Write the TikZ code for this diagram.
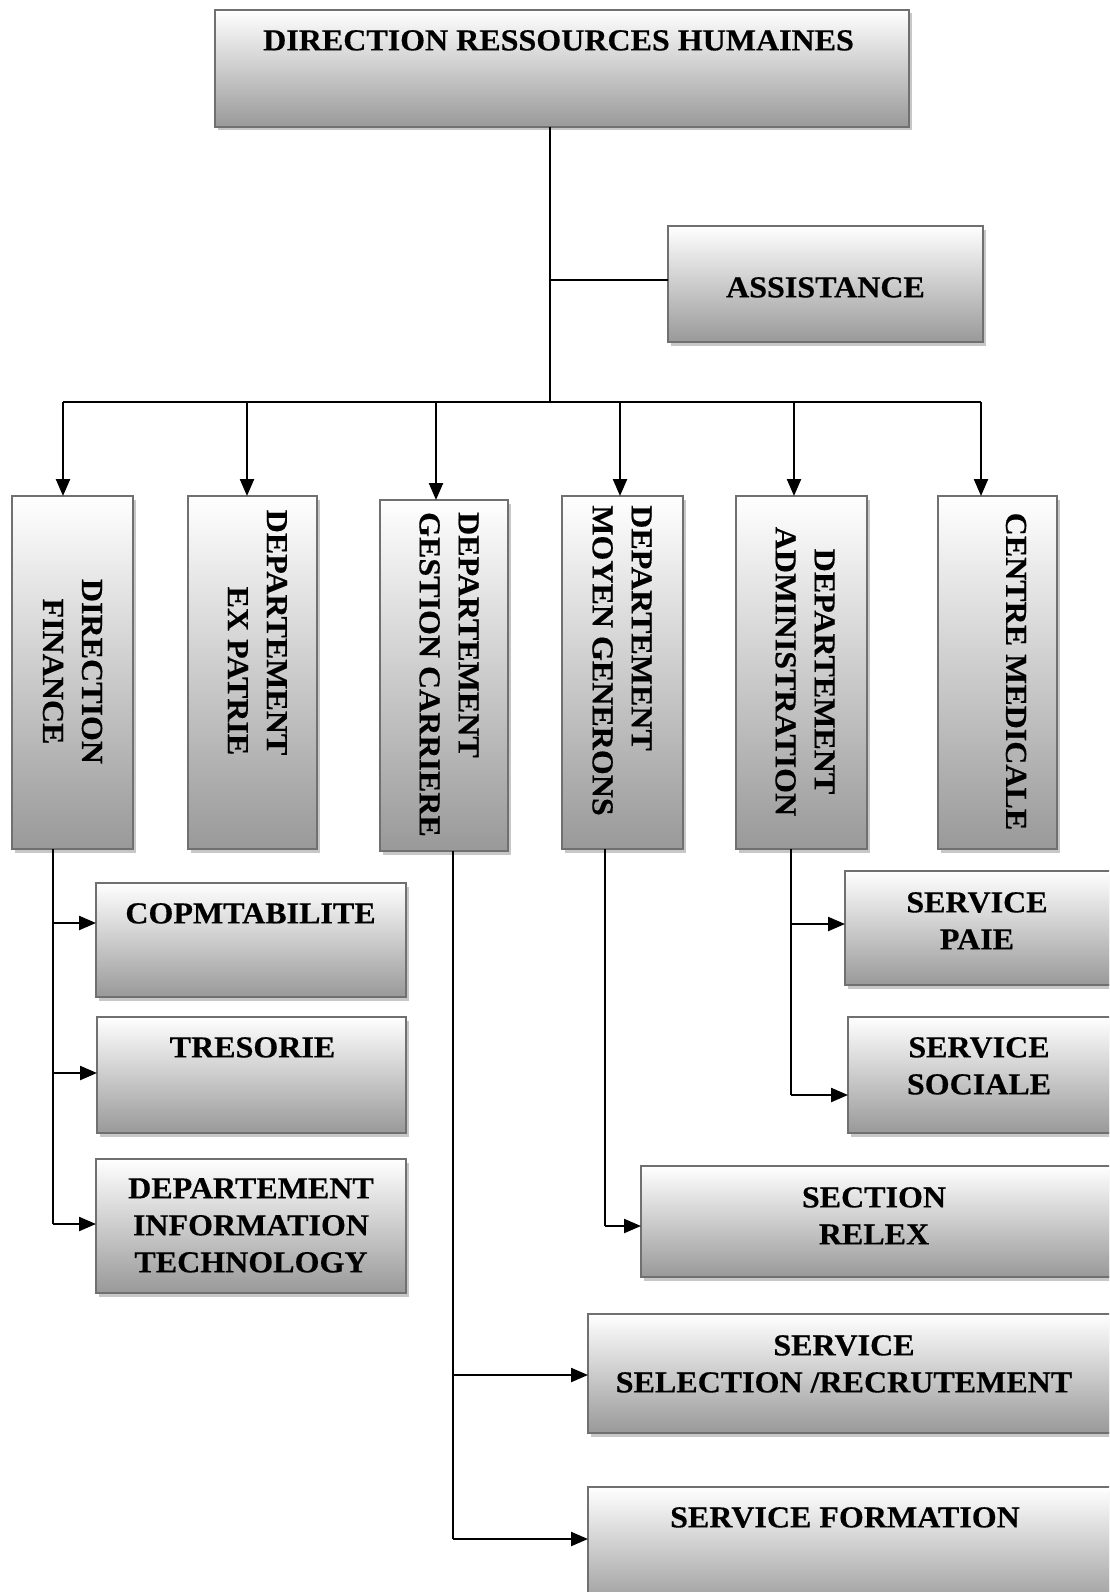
\documentclass[tikz,border=0pt]{standalone}
\usepackage{fontspec}
\setmainfont{Liberation Serif}[BoldFeatures={FakeStretch=1.05,FakeBold=0.4}]
\usetikzlibrary{arrows.meta,shadows}

\begin{document}
\begin{tikzpicture}[x=1pt,y=-1pt,
  box/.style={draw=black!56, line width=2pt, top color=white, bottom color=black!40,
    drop shadow={shadow xshift=3pt, shadow yshift=-3.5pt, fill=black!22, opacity=1},
    inner sep=0pt, outer sep=0pt},
  lbl/.style={font=\bfseries\fontsize{30.5}{37}\selectfont, align=center, inner sep=0pt, anchor=north},
  vlbl/.style={font=\bfseries\fontsize{30.5}{39}\selectfont, inner sep=0pt, rotate=-90, anchor=center},
  link/.style={line width=1.7pt},
  arr/.style={line width=2.3pt, -{Triangle[length=17pt,width=14pt]}}
]
\useasboundingbox (0,0) rectangle (1109,1592);
\clip (0,0) rectangle (1109,1592);

% ---- boxes ----
\node[box, minimum width=694, minimum height=117] (top)    at (562,68.5)   {};
\node[box, minimum width=315, minimum height=116] (assist) at (825.5,284)  {};

\node[box, minimum width=121, minimum height=353] (df)  at (72.5,672.5)  {};
\node[box, minimum width=129, minimum height=353] (ex)  at (252.5,672.5) {};
\node[box, minimum width=128, minimum height=351] (gc)  at (444,675.5)   {};
\node[box, minimum width=121, minimum height=353] (mg)  at (622.5,672.5) {};
\node[box, minimum width=131, minimum height=353] (adm) at (801.5,672.5) {};
\node[box, minimum width=119, minimum height=353] (cm)  at (997.5,672.5) {};

\node[box, minimum width=310, minimum height=114] (comp) at (251,940)    {};
\node[box, minimum width=309, minimum height=116] (tres) at (251.5,1075) {};
\node[box, minimum width=310, minimum height=134] (dit)  at (251,1226)   {};

\node[box, minimum width=280, minimum height=114] (paie)  at (985,928)     {};
\node[box, minimum width=277, minimum height=116] (soc)   at (986.5,1075)  {};
\node[box, minimum width=484, minimum height=111] (relex) at (883,1221.5)  {};
\node[box, minimum width=537, minimum height=119] (ssr)   at (856.5,1373.5){};
\node[box, minimum width=537, minimum height=123] (sf)    at (856.5,1548.5){};

% ---- labels ----
\node[lbl] (topT)    at (558.6,30)  {DIRECTION RESSOURCES HUMAINES};
\node[lbl] (assistT) at (825.5,277) {ASSISTANCE};
\node[lbl] (compT)   at (250.5,903) {COPMTABILITE};
\node[lbl] (tresT)   at (252.5,1037){TRESORIE};
\node[lbl] (ditT)    at (251,1178)  {DEPARTEMENT\\INFORMATION\\TECHNOLOGY};
\node[lbl] (paieT)   at (977,892)   {SERVICE\\PAIE};
\node[lbl] (socT)    at (979,1037)  {SERVICE\\SOCIALE};
\node[lbl] (relexT)  at (874,1187)  {SECTION\\RELEX};
\node[lbl] (ssrT)    at (844,1335)  {SERVICE\\SELECTION /RECRUTEMENT};
\node[lbl] (sfT)     at (845,1507)  {SERVICE FORMATION};

\node[vlbl, align=center] (dfT)  at (72.5,671.5) {DIRECTION\\FINANCE};
\node[vlbl, align=right]  (exT)  at (257.5,632.5){DEPARTEMENT\\EX PATRIE};
\node[vlbl, align=left]   (gcT)  at (449,674.5)  {DEPARTEMENT\\GESTION CARRIERE};
\node[vlbl, align=left]   (mgT)  at (622,660.5)  {DEPARTEMENT\\MOYEN GENERONS};
\node[vlbl, align=center] (admT) at (805,671.5)  {DEPARTEMENT\\ADMINISTRATION};
\node[vlbl, align=center] (cmT)  at (1016,671.5) {CENTRE MEDICALE};

% ---- junction points ----
\coordinate (tr) at (550,402);
\coordinate (as) at (550,280);
\coordinate (b1) at (63,402);
\coordinate (b2) at (247,402);
\coordinate (b3) at (436,402);
\coordinate (b4) at (620,402);
\coordinate (b5) at (794,402);
\coordinate (b6) at (981,402);

\coordinate (f1) at (53,923);
\coordinate (f2) at (53,1073);
\coordinate (f3) at (53,1224);
\coordinate (g1) at (453,1375);
\coordinate (g2) at (453,1539);
\coordinate (m1) at (605,1226);
\coordinate (a1) at (791,924);
\coordinate (a2) at (791,1095);

% ---- connectors from the head office ----
\draw[link] (top.south -| tr) -- (tr);
\draw[link] (as) -- (assist.west |- as);
\draw[link] (b1) -- (b6);
\draw[arr] (b1) -- (b1 |- df.north);
\draw[arr] (b2) -- (b2 |- ex.north);
\draw[arr] (b3) -- (b3 |- gc.north);
\draw[arr] (b4) -- (b4 |- mg.north);
\draw[arr] (b5) -- (b5 |- adm.north);
\draw[arr] (b6) -- (b6 |- cm.north);

% ---- finance ----
\draw[link] (df.south -| f1) -- (f3);
\draw[arr] (f1) -- (comp.west |- f1);
\draw[arr] (f2) -- (tres.west |- f2);
\draw[arr] (f3) -- (dit.west |- f3);

% ---- careers ----
\draw[link] (gc.south -| g1) -- (g2);
\draw[arr] (g1) -- (ssr.west |- g1);
\draw[arr] (g2) -- (sf.west |- g2);

% ---- general means ----
\draw[link] (mg.south -| m1) -- (m1);
\draw[arr] (m1) -- (relex.west |- m1);

% ---- administration ----
\draw[link] (adm.south -| a1) -- (a2);
\draw[arr] (a1) -- (paie.west |- a1);
\draw[arr] (a2) -- (soc.west |- a2);
\end{tikzpicture}
\end{document}
